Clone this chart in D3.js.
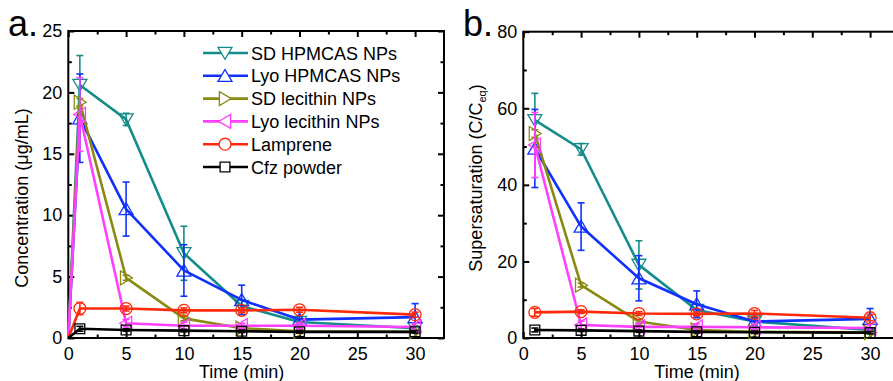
<!DOCTYPE html>
<html><head><meta charset="utf-8">
<script src="https://cdn.jsdelivr.net/npm/d3@7"></script>
<style>body{margin:0;background:#fff}svg{display:block}text{font-family:"Liberation Sans",Arial,sans-serif;fill:#000}</style>
</head><body><svg id="c" width="893" height="381"></svg>
<script>
const seriesNames = ["SD HPMCAS NPs","Lyo HPMCAS NPs","SD lecithin NPs","Lyo lecithin NPs","Lamprene","Cfz powder"];
const seriesColors = ["#148c8a","#1030ff","#8a8a12","#ff40ff","#ff2a0a","#000000"];
const seriesMarkers = ["down","up","right","left","circle","square"];

const timeA = [0,1,5,10,15,20,30];
const concSdHpmcas = [0,20.6,17.8,6.9,2.6,1.3,0.8];
const concLyoHpmcas = [0,17.9,10.5,5.5,3.1,1.5,1.7];
const concSdLecithin = [0,19.2,4.9,1.6,0.8,0.55,0.5];
const concLyoLecithin = [0,18.2,1.2,1.0,1.0,1.0,0.9];
const concLamprene = [0,2.4,2.4,2.25,2.25,2.3,1.9];
const concCfz = [0,0.75,0.65,0.6,0.55,0.5,0.5];
const errSdHpmcas = [0,2.4,0.5,2.2,0.5,0.3,0.2];
const errLyoHpmcas = [0,3.6,2.2,2.1,1.2,0.8,1.1];
const errSdLecithin = [0,0.3,0.2,0.2,0.1,0.1,0.1];
const errLyoLecithin = [0,3.0,0.3,0.3,0.2,0.2,0.3];
const errLamprene = [0,0.5,0.2,0.2,0.2,0.2,0.2];
const errCfz = [0,0.2,0.1,0.1,0.1,0.1,0.1];

const timeB = [1,5,10,15,20,30];
const superSdHpmcas = [56.9,49.3,19.1,7.3,4.3,2.1];
const superLyoHpmcas = [49.5,29.1,15.6,8.8,4.3,5.0];
const superSdLecithin = [53.4,13.8,4.3,2.1,1.6,1.4];
const superLyoLecithin = [50.4,3.4,2.9,2.9,2.8,2.6];
const superLamprene = [6.7,6.9,6.4,6.3,6.4,5.3];
const superCfz = [2.1,2.0,1.8,1.6,1.5,1.4];
const errSuperSdHpmcas = [7.0,1.5,6.3,1.5,1.0,0.5];
const errSuperLyoHpmcas = [10.2,6.2,5.9,3.5,2.0,2.7];
const errSuperSdLecithin = [1.0,0.5,0.5,0.3,0.3,0.3];
const errSuperLyoLecithin = [8.5,1.0,1.0,0.8,0.8,1.0];
const errSuperLamprene = [1.0,0.5,0.5,0.5,0.8,0.8];
const errSuperCfz = [0.5,0.3,0.3,0.3,0.3,0.3];

const xTicks = [0,5,10,15,20,25,30];
const yTicksA = [0,5,10,15,20,25];
const yTicksB = [0,20,40,60,80];

const svg = d3.select("#c");

function markerPath(type, r){
  const p = d3.path();
  if(type==="down"){p.moveTo(-r,-r*0.8);p.lineTo(r,-r*0.8);p.lineTo(0,r*0.9);p.closePath();}
  else if(type==="up"){p.moveTo(-r,r*0.8);p.lineTo(r,r*0.8);p.lineTo(0,-r*0.9);p.closePath();}
  else if(type==="right"){p.moveTo(-r*0.8,-r);p.lineTo(-r*0.8,r);p.lineTo(r*0.9,0);p.closePath();}
  else if(type==="left"){p.moveTo(r*0.8,-r);p.lineTo(r*0.8,r);p.lineTo(-r*0.9,0);p.closePath();}
  else if(type==="circle"){p.arc(0,0,r*0.85,0,2*Math.PI);}
  else {const s=r*0.7;p.rect(-s,-s,2*s,2*s);}
  return p.toString();
}

function panel(cfg){
  const x = d3.scaleLinear().domain([0,32.5]).range([cfg.left,cfg.left+375.7]);
  const y = d3.scaleLinear().domain(cfg.yDomain).range([cfg.bottom,cfg.top]);
  const g = svg.append("g");
  g.append("rect").attr("x",x(0)).attr("y",y(cfg.yDomain[1])).attr("width",x(32.5)-x(0)).attr("height",y(0)-y(cfg.yDomain[1]))
   .attr("fill","none").attr("stroke","#000").attr("stroke-width",2);
  const xMinor = d3.range(2.5,32.5,5);
  const bottom = g.append("g").attr("transform",`translate(0,${y(0)})`).call(d3.axisBottom(x).tickValues(xTicks).tickSizeInner(-6).tickSizeOuter(0).tickPadding(9));
  g.append("g").attr("transform",`translate(0,${y(0)})`).call(d3.axisBottom(x).tickValues(xMinor).tickSizeInner(-3.5).tickSizeOuter(0).tickFormat(""));
  g.append("g").attr("transform",`translate(0,${y(cfg.yDomain[1])})`).call(d3.axisTop(x).tickValues(xTicks).tickSizeInner(-6).tickSizeOuter(0).tickFormat(""));
  g.append("g").attr("transform",`translate(0,${y(cfg.yDomain[1])})`).call(d3.axisTop(x).tickValues(xMinor).tickSizeInner(-3.5).tickSizeOuter(0).tickFormat(""));
  g.append("g").attr("transform",`translate(${x(0)},0)`).call(d3.axisLeft(y).tickValues(cfg.yTicks).tickSizeInner(-6).tickSizeOuter(0).tickPadding(6));
  g.append("g").attr("transform",`translate(${x(0)},0)`).call(d3.axisLeft(y).tickValues(cfg.yMinor).tickSizeInner(-3.5).tickSizeOuter(0).tickFormat(""));
  g.append("g").attr("transform",`translate(${x(32.5)},0)`).call(d3.axisRight(y).tickValues(cfg.yTicks).tickSizeInner(-6).tickSizeOuter(0).tickFormat(""));
  g.append("g").attr("transform",`translate(${x(32.5)},0)`).call(d3.axisRight(y).tickValues(cfg.yMinor).tickSizeInner(-3.5).tickSizeOuter(0).tickFormat(""));
  g.selectAll(".domain").remove();
  g.selectAll(".tick line").attr("stroke","#000").attr("stroke-width",2);
  g.selectAll(".tick text").attr("font-size",18).attr("font-family","Liberation Sans, Arial, sans-serif").attr("fill","#000");

  const line = d3.line().x(d=>x(d.t)).y(d=>y(d.v));
  cfg.series.forEach((vals,i)=>{
    const data = cfg.time.map((t,j)=>({t,v:vals[j],e:cfg.errs[i][j]}));
    const col = seriesColors[i];
    const sg = g.append("g");
    sg.append("path").datum(data).attr("d",line).attr("fill","none").attr("stroke",col).attr("stroke-width",2.6).attr("stroke-linejoin","round");
    const eb = data.filter(d=>d.e>0);
    sg.selectAll("line.err").data(eb).join("line").attr("x1",d=>x(d.t)).attr("x2",d=>x(d.t))
      .attr("y1",d=>y(d.v-d.e)).attr("y2",d=>y(d.v+d.e)).attr("stroke",col).attr("stroke-width",1.6);
    sg.selectAll("line.cap1").data(eb).join("line").attr("x1",d=>x(d.t)-3.5).attr("x2",d=>x(d.t)+3.5)
      .attr("y1",d=>y(d.v+d.e)).attr("y2",d=>y(d.v+d.e)).attr("stroke",col).attr("stroke-width",1.6);
    sg.selectAll("line.cap2").data(eb).join("line").attr("x1",d=>x(d.t)-3.5).attr("x2",d=>x(d.t)+3.5)
      .attr("y1",d=>y(d.v-d.e)).attr("y2",d=>y(d.v-d.e)).attr("stroke",col).attr("stroke-width",1.6);
    sg.selectAll("path.m").data(data.filter(d=>d.t>0)).join("path").attr("class","m")
      .attr("transform",d=>`translate(${x(d.t)},${y(d.v)})`).attr("d",markerPath(seriesMarkers[i],7))
      .attr("fill","none").attr("stroke",col).attr("stroke-width",1.3);
  });
  return {x,y,g};
}

panel({left:68.3,top:31,bottom:338,yDomain:[0,25],yTicks:yTicksA,yMinor:d3.range(2.5,25,5),time:timeA,
  series:[concSdHpmcas,concLyoHpmcas,concSdLecithin,concLyoLecithin,concLamprene,concCfz],
  errs:[errSdHpmcas,errLyoHpmcas,errSdLecithin,errLyoLecithin,errLamprene,errCfz]});
panel({left:523.3,top:31.7,bottom:338,yDomain:[0,80],yTicks:yTicksB,yMinor:d3.range(10,80,20),time:timeB,
  series:[superSdHpmcas,superLyoHpmcas,superSdLecithin,superLyoLecithin,superLamprene,superCfz],
  errs:[errSuperSdHpmcas,errSuperLyoHpmcas,errSuperSdLecithin,errSuperLyoLecithin,errSuperLamprene,errSuperCfz]});

const lg = svg.append("g");
seriesNames.forEach((n,i)=>{
  const yy = 53 + i*22.8;
  lg.append("line").attr("x1",203).attr("x2",248).attr("y1",yy).attr("y2",yy).attr("stroke",seriesColors[i]).attr("stroke-width",2.6);
  lg.append("path").attr("transform",`translate(225,${yy})`).attr("d",markerPath(seriesMarkers[i],7)).attr("fill","#fff").attr("stroke",seriesColors[i]).attr("stroke-width",1.3);
  lg.append("text").attr("x",251).attr("y",yy+6.5).attr("font-size",18).text(n);
});

svg.append("text").attr("x",(68.3+415)/2).attr("y",378).attr("text-anchor","middle").attr("font-size",18).text("Time (min)");
svg.append("text").attr("x",(523.3+870.7)/2).attr("y",378).attr("text-anchor","middle").attr("font-size",18).text("Time (min)");
svg.append("text").attr("transform","translate(28,198) rotate(-90)").attr("text-anchor","middle").attr("font-size",18).text("Concentration (μg/mL)");
const tb = svg.append("text").attr("transform","translate(482,178) rotate(-90)").attr("text-anchor","middle").attr("font-size",18);
tb.append("tspan").text("Supersaturation (C/C");
tb.append("tspan").attr("font-size",11).attr("dy",4).text("eq");
tb.append("tspan").attr("dy",-4).text(")");
svg.append("text").attr("x",8).attr("y",36).attr("font-size",36).text("a.");
svg.append("text").attr("x",463).attr("y",36).attr("font-size",36).text("b.");
</script></body></html>
